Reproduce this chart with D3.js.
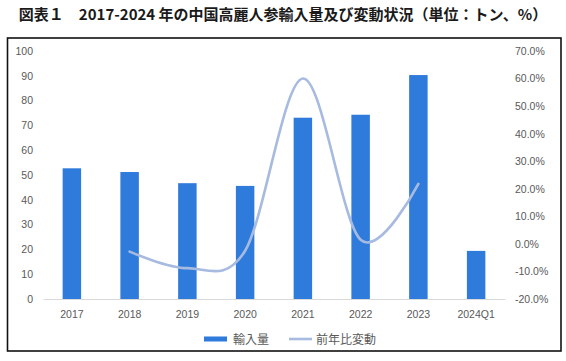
<!DOCTYPE html>
<html><head><meta charset="utf-8">
<script src="https://cdn.jsdelivr.net/npm/d3@7"></script>
<style>body{margin:0;background:#fff;} svg{display:block;}</style>
</head><body>
<svg id="c" width="566" height="361"></svg>
<script>
const categories = ["2017","2018","2019","2020","2021","2022","2023","2024Q1"];
const imports = [52.7, 51.2, 46.7, 45.6, 73.1, 74.3, 90.3, 19.4];
const changeYears = ["2018","2019","2020","2021","2022","2023"];
const changePct = [-2.8, -8.8, -2.5, 60.0, 1.5, 21.8];
const leftTicks = [0,10,20,30,40,50,60,70,80,90,100];
const rightTicks = [-20,-10,0,10,20,30,40,50,60,70];
const title = "図表１　2017-2024 年の中国高麗人参輸入量及び変動状況（単位：トン、%）";
const legendLabels = ["輸入量","前年比変動"];

const barColor = "#2f7bdc", lineColor = "#a7badf", txt = "#595959";
const svg = d3.select("#c");
const plotTop = 51, plotBottom = 299, plotLeft = 43, plotRight = 505;

svg.append("text").attr("x", 283).attr("y", 20).attr("text-anchor","middle")
  .attr("font-family","'Noto Sans CJK JP'").attr("font-weight","bold").attr("font-size",15)
  .attr("fill","#1a1a1a").text(title);

svg.append("rect").attr("x",7.5).attr("y",38).attr("width",553.5).attr("height",313)
  .attr("fill","none").attr("stroke","#111").attr("stroke-width",1.6);

const x = d3.scaleBand().domain(categories).range([plotLeft,plotRight]);
const y = d3.scaleLinear().domain([0,100]).range([plotBottom,plotTop]);
const y2 = d3.scaleLinear().domain([-20,70]).range([plotBottom,plotTop]);

const yAx = svg.append("g").attr("transform",`translate(${plotLeft-10},0)`)
  .call(d3.axisLeft(y).tickValues(leftTicks).tickSize(0).tickPadding(0));
yAx.select(".domain").remove();
yAx.selectAll("text").attr("font-family","'Liberation Sans'").attr("font-size",10.5).attr("fill",txt);

const y2Ax = svg.append("g").attr("transform",`translate(${plotRight+10},0)`)
  .call(d3.axisRight(y2).tickValues(rightTicks).tickSize(0).tickPadding(0).tickFormat(d=>d.toFixed(1)+"%"));
y2Ax.select(".domain").remove();
y2Ax.selectAll("text").attr("font-family","'Liberation Sans'").attr("font-size",10.5).attr("fill",txt);

const bw = x.bandwidth();
svg.append("g").selectAll("rect").data(categories).join("rect")
  .attr("x", d => x(d) + bw*0.34).attr("width", bw*0.32)
  .attr("y", (d,i) => y(imports[i])).attr("height", (d,i) => y(0)-y(imports[i]))
  .attr("fill", barColor);

const xAx = svg.append("g").attr("transform",`translate(0,${plotBottom})`)
  .call(d3.axisBottom(x).tickSize(0).tickPadding(12));
xAx.select(".domain").attr("stroke","#d9d9d9");
xAx.selectAll("text").attr("font-family","'Liberation Sans'").attr("font-size",10.5).attr("fill",txt);

const line = d3.line().x((d,i) => x(changeYears[i]) + bw/2).y(d => y2(d)).curve(d3.curveCatmullRom.alpha(0));
svg.append("path").datum(changePct).attr("d", line).attr("fill","none")
  .attr("stroke", lineColor).attr("stroke-width",2.6).attr("stroke-linecap","round");

const lg = svg.append("g");
lg.append("rect").attr("x",204).attr("y",336.5).attr("width",23).attr("height",5).attr("fill",barColor);
lg.append("text").attr("x",233).attr("y",343.5).text(legendLabels[0]);
lg.append("line").attr("x1",289).attr("x2",312).attr("y1",339).attr("y2",339).attr("stroke",lineColor).attr("stroke-width",2.6);
lg.append("text").attr("x",316).attr("y",343.5).text(legendLabels[1]);
lg.selectAll("text").attr("font-family","'Noto Sans CJK JP'").attr("font-size",12).attr("fill",txt);
</script>
</body></html>
